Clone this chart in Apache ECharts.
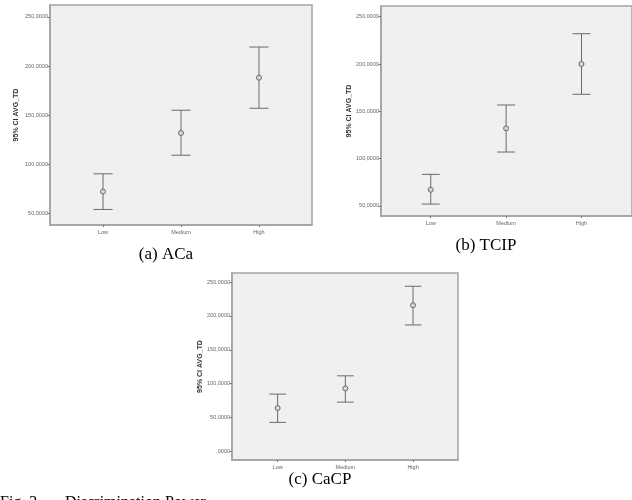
<!DOCTYPE html>
<html lang="en">

<head>
    <meta http-equiv="content-type" content="text/html; charset=utf-8"/>
    <title>95% CI AVG_TD</title>
    <script src="https://cdn.jsdelivr.net/npm/echarts@6.0.0/dist/echarts.min.js"></script>
    <style>
        html, body {
            height: 100%;
            margin: 0;
            background: #fff;
        }

        .chart {
            width: 632px;
            height: 500px;
        }
    </style>
</head>

<body>
<div class="chart"></div>
<script>
    const categories = ["Low", "Medium", "High"];

    // (a) ACa
    const acaMean = [72.5, 132, 188.1];
    const acaLower = [54.3, 109.4, 157.1];
    const acaUpper = [90.5, 155.1, 219.3];

    // (b) TCIP
    const tcipMean = [67.1, 132, 200];
    const tcipLower = [52, 107, 168];
    const tcipUpper = [83.4, 156.7, 232];

    // (c) CaCP
    const cacpMean = [63.9, 92.9, 215.8];
    const cacpLower = [42.8, 72.7, 186.7];
    const cacpUpper = [84.5, 111.5, 243.8];

    const yTicksTop = [50, 100, 150, 200, 250];
    const yTicksBottom = [0, 50, 100, 150, 200, 250];
    const xTicks = [1, 2, 3];

    const chart = echarts.init(document.querySelector(".chart"));

    const lineColor = "#a3a3a3";
    const barColor = "#6a6a6a";

    let grids = [];
    let xAxes = [];
    let yAxes = [];
    let series = [];

    function addPanel(grid, xRange, yRange, yTicks, nameGap, capHalf, mean, lower, upper) {
        const i = grids.length;
        grids.push(Object.assign({
            show: true,
            backgroundColor: "#f0f0f0",
            borderColor: lineColor,
            borderWidth: 1.5
        }, grid));
        xAxes.push({
            gridIndex: i,
            type: "value",
            min: xRange[0],
            max: xRange[1],
            axisLine: {show: true, onZero: false, lineStyle: {color: lineColor, width: 1.5}},
            axisTick: {show: true, customValues: xTicks, length: 2, lineStyle: {color: "#777"}},
            axisLabel: {
                customValues: xTicks,
                fontSize: 5.5,
                color: "#666",
                margin: 4,
                fontFamily: "Liberation Sans",
                formatter: v => categories[Math.round(v) - 1]
            },
            splitLine: {show: false}
        });
        yAxes.push({
            gridIndex: i,
            type: "value",
            min: yRange[0],
            max: yRange[1],
            name: "95% CI AVG_TD",
            nameLocation: "middle",
            nameGap: nameGap,
            nameTextStyle: {fontSize: 7, fontWeight: "bold", color: "#333", fontFamily: "Liberation Sans"},
            axisLine: {show: true, onZero: false, lineStyle: {color: lineColor, width: 1.5}},
            axisTick: {show: true, customValues: yTicks, length: 2.5, lineStyle: {color: "#777"}},
            axisLabel: {
                customValues: yTicks,
                fontSize: 5.5,
                color: "#666",
                margin: 2,
                fontFamily: "Liberation Sans",
                formatter: v => (v === 0 ? "" : String(v)) + ",0000"
            },
            splitLine: {show: false}
        });
        series.push({
            type: "custom",
            xAxisIndex: i,
            yAxisIndex: i,
            data: categories.map((c, k) => [k + 1, lower[k], upper[k]]),
            renderItem: function (params, api) {
                const lo = api.coord([api.value(0), api.value(1)]);
                const hi = api.coord([api.value(0), api.value(2)]);
                const style = {stroke: barColor, lineWidth: 1};
                return {
                    type: "group",
                    children: [
                        {type: "line", shape: {x1: lo[0], y1: lo[1], x2: hi[0], y2: hi[1]}, style: style},
                        {type: "line", shape: {x1: lo[0] - capHalf, y1: lo[1], x2: lo[0] + capHalf, y2: lo[1]}, style: style},
                        {type: "line", shape: {x1: hi[0] - capHalf, y1: hi[1], x2: hi[0] + capHalf, y2: hi[1]}, style: style}
                    ]
                };
            },
            silent: true
        });
        series.push({
            type: "scatter",
            xAxisIndex: i,
            yAxisIndex: i,
            symbol: "circle",
            symbolSize: 5,
            itemStyle: {color: "#d6d6d6", borderColor: barColor, borderWidth: 1, opacity: 1},
            data: categories.map((c, k) => [k + 1, mean[k]]),
            z: 3,
            silent: true
        });
    }

    addPanel({left: 50, top: 5, width: 262, height: 220}, [0.32, 3.68], [38.5, 262],
        yTicksTop, 30, 9.6, acaMean, acaLower, acaUpper);
    addPanel({left: 381, top: 6, width: 254, height: 210}, [0.34, 3.67], [39.4, 261.3],
        yTicksTop, 28.5, 9, tcipMean, tcipLower, tcipUpper);
    addPanel({left: 232, top: 273, width: 226, height: 187}, [0.326, 3.664], [-12.8, 263.4],
        yTicksBottom, 26.5, 8.3, cacpMean, cacpLower, cacpUpper);

    const captionFont = "17px 'Liberation Serif'";
    const footFont = "16px 'Liberation Serif'";

    let option = {
        animation: false,
        grid: grids,
        xAxis: xAxes,
        yAxis: yAxes,
        series: series,
        graphic: [
            {type: "text", x: 166, y: 255, style: {text: "(a) ACa", font: captionFont, fill: "#000", align: "center", verticalAlign: "middle"}},
            {type: "text", x: 486, y: 246, style: {text: "(b) TCIP", font: captionFont, fill: "#000", align: "center", verticalAlign: "middle"}},
            {type: "text", x: 320, y: 480, style: {text: "(c) CaCP", font: captionFont, fill: "#000", align: "center", verticalAlign: "middle"}},
            {type: "text", x: 0, y: 495, style: {text: "Fig. 3", font: footFont, fill: "#000", align: "left", verticalAlign: "top"}},
            {type: "text", x: 65, y: 495, style: {text: "Discrimination Power", font: footFont, fill: "#000", align: "left", verticalAlign: "top"}}
        ]
    };
    chart.setOption(option);
</script>
</body>

</html>
